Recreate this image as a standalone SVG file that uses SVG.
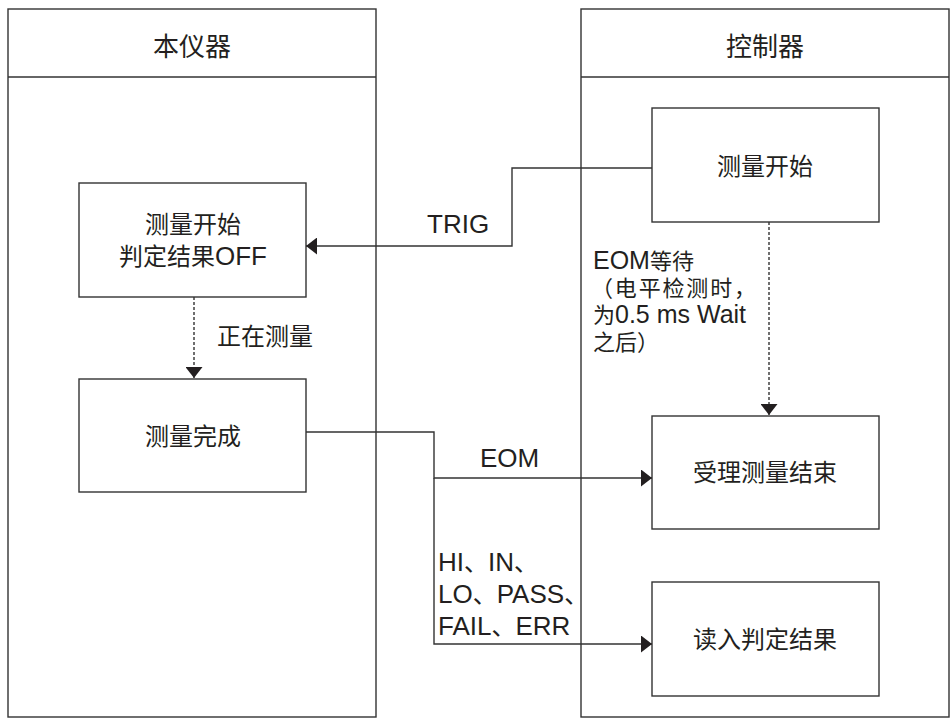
<svg xmlns="http://www.w3.org/2000/svg" width="950" height="719" viewBox="0 0 950 719">
<style>
.box{fill:#fff;stroke:#333;stroke-width:1.4}
.ln{fill:none;stroke:#333;stroke-width:1.4}
.dot{fill:none;stroke:#333;stroke-width:1.4;stroke-dasharray:3 2}
.t{font-family:"Liberation Sans","Noto Sans CJK SC",sans-serif;font-size:24px;fill:#231f20}
.L{font-size:26px}
.c{text-anchor:middle}
.h{font-size:26px}
.s{font-size:22px}
.sL{font-size:25px}
</style>
<defs>
<marker id="ah" viewBox="0 0 11 17" refX="11" refY="8.5" markerWidth="11" markerHeight="17" markerUnits="userSpaceOnUse" orient="auto">
<path d="M0,0 L11,8.5 L0,17 z" fill="#231f20"/>
</marker>
</defs>
<g id="lane-instrument">
<rect class="box" x="8" y="9" width="368" height="708"/>
<line class="ln" x1="8" y1="77" x2="376" y2="77"/>
<text class="t c h" x="192" y="56">本仪器</text>
</g>
<g id="lane-controller">
<rect class="box" x="581" y="9" width="368" height="708"/>
<line class="ln" x1="581" y1="77" x2="949" y2="77"/>
<text class="t c h" x="765" y="56">控制器</text>
</g>
<g id="node-start-instr">
<rect class="box" x="79" y="183" width="227" height="114"/>
<text class="t c" x="193" y="233">测量开始</text>
<text class="t c" x="193" y="265">判定结果<tspan class="L">OFF</tspan></text>
</g>
<g id="node-done">
<rect class="box" x="79" y="379" width="227" height="113"/>
<text class="t c" x="193" y="445">测量完成</text>
</g>
<g id="node-start-ctrl">
<rect class="box" x="652" y="108" width="227" height="114"/>
<text class="t c" x="765" y="175">测量开始</text>
</g>
<g id="node-receive">
<rect class="box" x="652" y="416" width="227" height="113"/>
<text class="t c" x="765" y="481">受理测量结束</text>
</g>
<g id="node-read">
<rect class="box" x="652" y="582" width="227" height="114"/>
<text class="t c" x="765" y="648">读入判定结果</text>
</g>
<g id="connectors">
<polyline class="ln" points="652,168 512,168 512,246 306,246" marker-end="url(#ah)"/>
<line class="dot" x1="194" y1="297" x2="194" y2="378" marker-end="url(#ah)"/>
<line class="dot" x1="769" y1="222" x2="769" y2="415" marker-end="url(#ah)"/>
<polyline class="ln" points="306,432 434,432 434,478 652,478" marker-end="url(#ah)"/>
<polyline class="ln" points="434,478 434,644 652,644" marker-end="url(#ah)"/>
<text class="t L" x="427" y="233">TRIG</text>
<text class="t" x="217" y="345">正在测量</text>
<text class="t L" x="480" y="467">EOM</text>
<text class="t s" x="593" y="269"><tspan class="sL">EOM</tspan>等待</text>
<text class="t s" x="591" y="296" textLength="165" lengthAdjust="spacing">（电平检测时，</text>
<text class="t s" x="593" y="323">为<tspan class="sL">0.5 ms Wait</tspan></text>
<text class="t s" x="593" y="350">之后）</text>
<text class="t" x="438" y="571"><tspan class="L">HI</tspan>、<tspan class="L">IN</tspan>、</text>
<text class="t" x="438" y="603"><tspan class="L">LO</tspan>、<tspan class="L">PASS</tspan>、</text>
<text class="t" x="438" y="635"><tspan class="L">FAIL</tspan>、<tspan class="L">ERR</tspan></text>
</g>
</svg>
